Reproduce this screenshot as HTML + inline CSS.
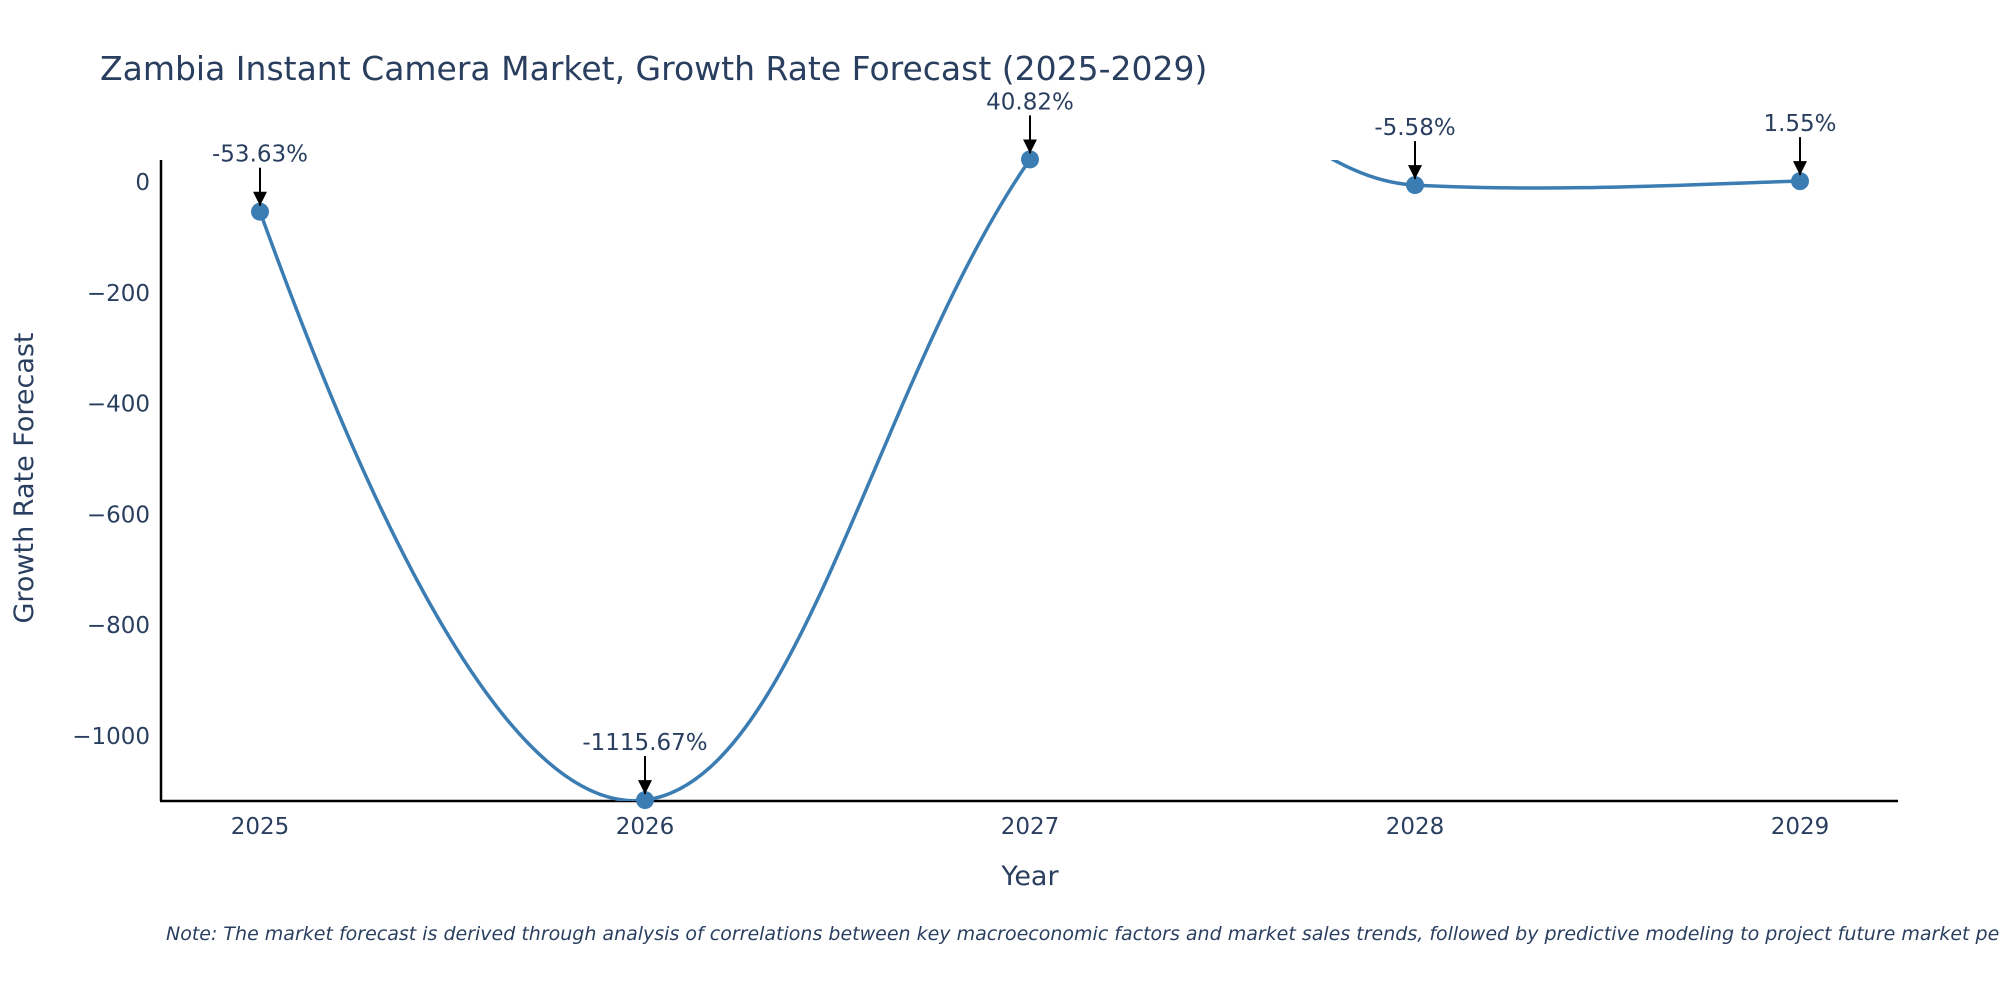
<!DOCTYPE html>
<html><head><meta charset="utf-8"><style>
body{margin:0;background:#fff;}
svg text{font-family:"DejaVu Sans","Liberation Sans",sans-serif;}
</style></head><body>
<svg width="2000" height="1000" xmlns="http://www.w3.org/2000/svg">
<defs>
<clipPath id="plotclip"><rect x="161" y="160" width="1737" height="641"/></clipPath>
<marker id="arr" viewBox="0 0 10 10" refX="10" refY="5" markerWidth="14" markerHeight="14" orient="auto" markerUnits="userSpaceOnUse"><path d="M0,0 L10,5 L0,10 Z" fill="#000"/></marker>
</defs>
<rect width="2000" height="1000" fill="#fff"/>
<text x="100" y="80" font-size="33" fill="#2a3f5f">Zambia Instant Camera Market, Growth Rate Forecast (2025-2029)</text>
<g id="yticks"></g>
<g id="xticks"></g>
<line x1="161" y1="160" x2="161" y2="801" stroke="#000" stroke-width="2.5"/>
<line x1="160" y1="801" x2="1898" y2="801" stroke="#000" stroke-width="2.5"/>
<g clip-path="url(#plotclip)"><path id="line" fill="none" stroke="#3b7db3" stroke-width="3.5"/></g>
<g id="points"></g>
<g id="annots"></g>
<text x="33" y="478" font-size="27" fill="#2a3f5f" text-anchor="middle" transform="rotate(-90 33 478)">Growth Rate Forecast</text>
<text x="1030" y="885" font-size="27" fill="#2a3f5f" text-anchor="middle">Year</text>
<text x="166" y="940" font-size="19" font-style="italic" fill="#2a3f5f">Note: The market forecast is derived through analysis of correlations between key macroeconomic factors and market sales trends, followed by predictive modeling to project future market performance.</text>
</svg>
<script>
const years=[2025,2026,2027,2028,2029];
const values=[-53.63,-1115.67,40.82,-5.58,1.55];
const labels=["-53.63%","-1115.67%","40.82%","-5.58%","1.55%"];
const yTicks=[0,-200,-400,-600,-800,-1000];
const NS="http://www.w3.org/2000/svg";
const xs=y=>260+(y-2025)*385;
const ys=v=>182-v*0.554;
function mk(t,a,p){const e=document.createElementNS(NS,t);for(const k in a)e.setAttribute(k,a[k]);p.appendChild(e);return e;}
const yg=document.getElementById('yticks');
yTicks.forEach(v=>{const t=mk('text',{x:150,y:ys(v)+8,'font-size':23,fill:'#2a3f5f','text-anchor':'end'},yg);


t.textContent=v===0?'0':'\u2212'+Math.abs(v);});
const xg=document.getElementById('xticks');
years.forEach(y=>{const t=mk('text',{x:xs(y),y:834,'font-size':23,fill:'#2a3f5f','text-anchor':'middle'},xg);


t.textContent=y;});
const P=years.map((y,i)=>[xs(y),ys(values[i])]);
let d=`M${P[0][0]},${P[0][1]}`;
for(let i=0;i<P.length-1;i++){const p0=P[Math.max(i-1,0)],p1=P[i],p2=P[i+1],p3=P[Math.min(i+2,P.length-1)];const k=0.2;
const c1=[p1[0]+(p2[0]-p0[0])*k,p1[1]+(p2[1]-p0[1])*k*1.8];const c2=[p2[0]-(p3[0]-p1[0])*k,p2[1]-(p3[1]-p1[1])*k*1.8];
d+=` C${c1[0]},${c1[1]} ${c2[0]},${c2[1]} ${p2[0]},${p2[1]}`;}
document.getElementById('line').setAttribute('d',d);
const pg=document.getElementById('points'),ag=document.getElementById('annots');
P.forEach((p,i)=>{const c=mk('circle',{cx:p[0],cy:p[1],r:9,fill:'#3b7db3'},pg);


const l=mk('line',{x1:p[0],y1:p[1]-44,x2:p[0],y2:p[1]-6,stroke:'#000','stroke-width':2,'marker-end':'url(#arr)'},ag);


const t=mk('text',{x:p[0],y:p[1]-50,'font-size':23,fill:'#2a3f5f','text-anchor':'middle'},ag);


t.textContent=labels[i];});
</script>
</body></html>
